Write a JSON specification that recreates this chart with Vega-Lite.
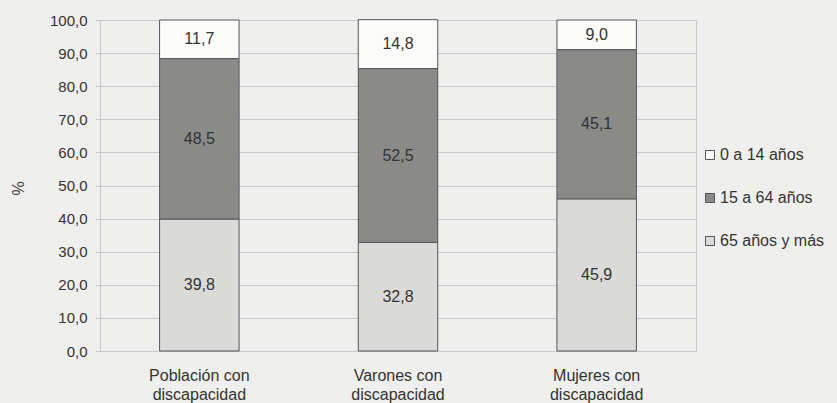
{
  "$schema": "https://vega.github.io/schema/vega-lite/v6.json",
  "width": 596,
  "height": 331,
  "autosize": {"type": "none"},
  "padding": {"left": 100, "top": 20, "right": 141, "bottom": 52},
  "background": "#efefed",
  "config": {
    "font": "Liberation Sans",
    "view": {"stroke": "#c8c8c8", "strokeWidth": 1},
    "axisY": {
      "titleFontSize": 16,
      "titleFontWeight": "normal",
      "titleColor": "#444444",
      "titleX": -74,
      "titleY": 168,
      "titleAngle": 270,
      "values": [0, 10, 20, 30, 40, 50, 60, 70, 80, 90, 100],
      "labelOverlap": false,
      "labelExpr": "replace(format(datum.value, '.1f'), '.', ',')",
      "labelFontSize": 15,
      "labelColor": "#333333",
      "labelPadding": 8,
      "tickSize": 5,
      "tickColor": "#c8c8c8",
      "gridColor": "#c8c8c8",
      "domainColor": "#c8c8c8"
    }
  },
  "data": {
    "values": [
      {"cat": "Población con discapacidad", "grupo": "0 a 14 años", "v": 11.7},
      {"cat": "Población con discapacidad", "grupo": "15 a 64 años", "v": 48.5},
      {"cat": "Población con discapacidad", "grupo": "65 años y más", "v": 39.8},
      {"cat": "Varones con discapacidad", "grupo": "0 a 14 años", "v": 14.8},
      {"cat": "Varones con discapacidad", "grupo": "15 a 64 años", "v": 52.5},
      {"cat": "Varones con discapacidad", "grupo": "65 años y más", "v": 32.8},
      {"cat": "Mujeres con discapacidad", "grupo": "0 a 14 años", "v": 9.0},
      {"cat": "Mujeres con discapacidad", "grupo": "15 a 64 años", "v": 45.1},
      {"cat": "Mujeres con discapacidad", "grupo": "65 años y más", "v": 45.9}
    ]
  },
  "transform": [
    {"calculate": "datum.grupo == '65 años y más' ? 1 : datum.grupo == '15 a 64 años' ? 2 : 3", "as": "ord"},
    {"stack": "v", "groupby": ["cat"], "sort": [{"field": "ord", "order": "ascending"}], "as": ["y0", "y1"]},
    {"calculate": "(datum.y0 + datum.y1) / 2", "as": "mid"},
    {"calculate": "replace(format(datum.v, '.1f'), '.', ',')", "as": "lbl"}
  ],
  "encoding": {
    "x": {
      "field": "cat",
      "type": "nominal",
      "sort": ["Población con discapacidad", "Varones con discapacidad", "Mujeres con discapacidad"],
      "scale": {"paddingInner": 0.6, "paddingOuter": 0.3},
      "axis": {
        "title": null,
        "labelAngle": 0,
        "labelExpr": "split(replace(datum.label, ' con ', ' con|'), '|')",
        "labelFontSize": 16,
        "labelColor": "#333333",
        "labelPadding": 16,
        "labelLineHeight": 19,
        "ticks": false,
        "domain": false
      }
    }
  },
  "layer": [
    {
      "mark": {"type": "bar", "stroke": "#555555", "strokeWidth": 1},
      "encoding": {
        "y": {
          "field": "y0",
          "type": "quantitative",
          "title": "%",
          "scale": {"domain": [0, 100]}
        },
        "y2": {"field": "y1"},
        "color": {
          "field": "grupo",
          "type": "nominal",
          "scale": {
            "domain": ["0 a 14 años", "15 a 64 años", "65 años y más"],
            "range": ["#fbfbfa", "#8a8a89", "#dadad8"]
          },
          "legend": {
            "title": null,
            "orient": "none",
            "legendX": 602,
            "legendY": 127,
            "symbolType": "square",
            "symbolSize": 81,
            "symbolStrokeColor": "#555555",
            "symbolStrokeWidth": 1,
            "labelFontSize": 16,
            "labelColor": "#333333",
            "labelOffset": 2,
            "rowPadding": 27
          }
        }
      }
    },
    {
      "mark": {"type": "text", "fontSize": 16, "color": "#333333"},
      "encoding": {
        "y": {"field": "mid", "type": "quantitative", "title": "%"},
        "text": {"field": "lbl"}
      }
    }
  ]
}
